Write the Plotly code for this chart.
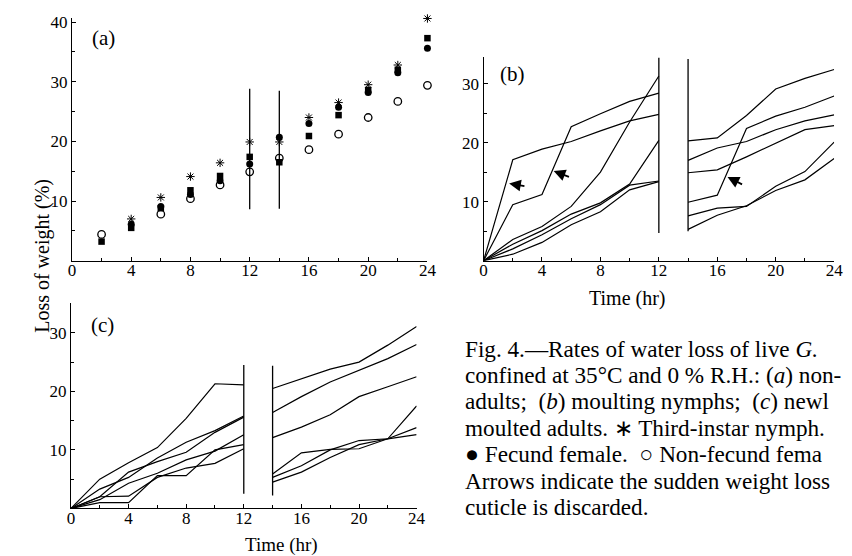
import plotly.graph_objects as go

W, H = 852, 556
FONT = "Liberation Serif"

# ---------------- Panel (a): non-moulting adults ----------------
a_hours = [2, 4, 6, 8, 10, 12, 14, 16, 18, 20, 22, 24]
a_nymph = [None, 7.0, 10.6, 14.1, 16.4, 19.9, 19.9, 24.0, 26.5, 29.5, 32.8, 40.6]
a_fecund = [None, 6.1, 9.1, 11.1, 13.4, 16.2, 20.7, 23.0, 25.7, 28.2, 31.5, 35.6]
a_square = [3.2, 5.5, 8.8, 11.8, 14.2, 17.4, 16.5, 20.9, 24.4, 28.6, 32.0, 37.3]
a_nonfecund = [4.4, None, 7.8, 10.4, 12.7, 14.9, 17.2, 18.6, 21.2, 24.0, 26.7, 29.4]
a_break_x = [12, 14]
a_break_lo = [8.6, 8.7]
a_break_hi = [28.8, 28.5]

# ---------------- Panel (b): moulting nymphs ----------------
b_hours_left = [0, 2, 4, 6, 8, 10, 12]
b_hours_right = [14, 16, 18, 20, 22, 24]
b_left = [
    [0, 17.1, 18.9, 20.2, 22.0, 23.7, 24.8],
    [0, 9.5, 11.2, 22.7, 24.9, 27.0, 28.4],
    [0, 3.6, 5.8, 9.2, 15.0, 23.5, 31.3],
    [0, 2.8, 5.1, 7.9, 9.8, 13.0, 20.4],
    [0, 2.0, 4.4, 7.1, 9.5, 12.8, 13.5],
    [0, 1.1, 3.1, 6.1, 8.3, 12.0, 13.4],
]
b_right = [
    [20.3, 20.8, 24.6, 29.1, 30.9, 32.4],
    [17.0, 19.1, 20.2, 22.2, 23.7, 24.7],
    [14.9, 15.4, 17.6, 19.9, 22.2, 22.9],
    [9.9, 11.1, 22.4, 24.5, 26.0, 27.9],
    [7.6, 8.9, 9.2, 12.6, 15.1, 20.1],
    [5.3, 7.7, 9.3, 11.9, 13.7, 17.3],
]
b_break_x = [12, 14]
b_break_lo = [4.7, 5.0]
b_break_hi = [34.4, 34.2]
# arrows: head (x, y) and tail (x, y) in data units
b_arrow_head_x = [1.75, 4.8, 16.7]
b_arrow_head_y = [13.1, 15.2, 14.2]
b_arrow_tail_x = [2.9, 5.95, 17.8]
b_arrow_tail_y = [12.6, 14.1, 12.8]

# ---------------- Panel (c): newly moulted adults ----------------
c_hours_left = [0, 2, 4, 6, 8, 10, 12]
c_hours_right = [14, 16, 18, 20, 22, 24]
c_left = [
    [0, 5.0, 7.8, 10.4, 15.4, 21.3, 21.1],
    [0, 3.3, 5.3, 8.6, 11.3, 13.3, 15.8],
    [0, 2.0, 6.2, 8.0, 9.6, 13.0, 15.6],
    [0, 1.5, 4.3, 6.0, 8.3, 9.8, 12.6],
    [0, 1.0, 1.0, 5.6, 5.6, 10.0, 10.9],
    [0, 2.0, 2.1, 5.3, 6.9, 7.7, 10.2],
]
c_right = [
    [20.5, 22.2, 23.8, 25.0, 27.9, 31.1],
    [16.4, 19.1, 21.6, 23.6, 25.6, 28.0],
    [12.1, 13.9, 16.0, 19.1, 20.8, 22.5],
    [5.9, 9.5, 10.1, 10.2, 11.9, 12.6],
    [5.3, 7.3, 10.0, 11.6, 11.9, 17.5],
    [4.5, 6.2, 8.7, 10.9, 11.9, 13.8],
]
c_break_x = [12, 14]
c_break_lo = [2.5, 2.2]
c_break_hi = [24.5, 24.4]

x_ticks = [0, 4, 8, 12, 16, 20, 24]
y_ticks = [10, 20, 30, 40]

caption_lines = [
    "Fig. 4.—Rates of water loss of live <i>G.</i>",
    "confined at 35°C and 0 % R.H.: (<i>a</i>) non-",
    "adults;  (<i>b</i>) moulting nymphs;  (<i>c</i>) newl",
    "moulted adults. ∗ Third-instar nymph.",
    "● Fecund female.  ○ Non-fecund fema",
    "Arrows indicate the sudden weight loss",
    "cuticle is discarded.",
]


def px_x(p):
    return p / W


def px_y(p):
    return 1 - p / H


fig = go.Figure()


def break_trace(xs, lo, hi, xa, ya):
    bx, by = [], []
    for x, l, h in zip(xs, lo, hi):
        bx += [x, x, None]
        by += [l, h, None]
    return go.Scatter(x=bx, y=by, mode="lines", xaxis=xa, yaxis=ya,
                      line=dict(color="black", width=1.3), hoverinfo="skip")


# panel (a)
fig.add_trace(break_trace(a_break_x, a_break_lo, a_break_hi, "x", "y"))
fig.add_trace(go.Scatter(x=a_hours, y=a_nymph, mode="markers", xaxis="x", yaxis="y",
                         marker=dict(symbol="asterisk-open", size=7, color="black",
                                     line=dict(color="black", width=1)), cliponaxis=False))
fig.add_trace(go.Scatter(x=a_hours, y=a_square, mode="markers", xaxis="x", yaxis="y",
                         marker=dict(symbol="square", size=6.5, color="black"), cliponaxis=False))
fig.add_trace(go.Scatter(x=a_hours, y=a_fecund, mode="markers", xaxis="x", yaxis="y",
                         marker=dict(symbol="circle", size=7, color="black"), cliponaxis=False))
fig.add_trace(go.Scatter(x=a_hours, y=a_nonfecund, mode="markers", xaxis="x", yaxis="y",
                         marker=dict(symbol="circle-open", size=7.5, color="black",
                                     line=dict(color="black", width=1.3)), cliponaxis=False))


def add_lines(hl, hr, left, right, xa, ya):
    for l, r in zip(left, right):
        fig.add_trace(go.Scatter(x=hl + [None] + hr, y=l + [None] + r, mode="lines",
                                 xaxis=xa, yaxis=ya, connectgaps=False,
                                 line=dict(color="black", width=1.2), cliponaxis=False))


# panel (b)
add_lines(b_hours_left, b_hours_right, b_left, b_right, "x2", "y2")
fig.add_trace(break_trace(b_break_x, b_break_lo, b_break_hi, "x2", "y2"))
# panel (c)
add_lines(c_hours_left, c_hours_right, c_left, c_right, "x3", "y3")
fig.add_trace(break_trace(c_break_x, c_break_lo, c_break_hi, "x3", "y3"))

tickfont = dict(family=FONT, size=17, color="black")


def xax(dom):
    return dict(domain=dom, range=[0, 24], tickvals=x_ticks, ticks="inside", ticklen=4,
                tickwidth=1, tickcolor="black", showline=True, linecolor="black",
                linewidth=1.3, showgrid=False, zeroline=False, tickfont=tickfont,
                ticklabelstandoff=-6,
                minor=dict(dtick=2, ticks="inside", ticklen=3, tickcolor="black", showgrid=False))


def yax(dom, top, anchor):
    return dict(domain=dom, range=[0, top], tickvals=[v for v in y_ticks if v <= top],
                ticks="inside", ticklen=4, tickwidth=1, tickcolor="black", showline=True,
                linecolor="black", linewidth=1.3, showgrid=False, zeroline=False,
                tickfont=tickfont, anchor=anchor,
                minor=dict(dtick=5, ticks="inside", ticklen=3, tickcolor="black", showgrid=False))


layout = dict(
    width=W, height=H, margin=dict(l=0, r=0, t=0, b=0),
    paper_bgcolor="white", plot_bgcolor="white", showlegend=False,
    font=dict(family=FONT, color="black"),
    xaxis=dict(xax([px_x(69), px_x(430)]), anchor="y"),
    yaxis=yax([px_y(258), px_y(13)], 40.7, "x"),
    xaxis2=dict(xax([px_x(487), px_x(843)]), anchor="y2"),
    yaxis2=yax([px_y(258), px_y(52)], 34.6, "x2"),
    xaxis3=dict(xax([px_x(68), px_x(419)]), anchor="y3"),
    yaxis3=yax([px_y(508), px_y(300.7)], 35.1, "x3"),
)
fig.update_layout(**layout)

ann = []
# panel labels
ann.append(dict(x=2.1, y=37.3, xref="x", yref="y", text="(a)", showarrow=False,
                font=dict(family=FONT, size=21)))
ann.append(dict(x=2.0, y=31.7, xref="x2", yref="y2", text="(b)", showarrow=False,
                font=dict(family=FONT, size=21)))
ann.append(dict(x=2.2, y=31.3, xref="x3", yref="y3", text="(c)", showarrow=False,
                font=dict(family=FONT, size=21)))
# arrows
for hx, hy, tx, ty in zip(b_arrow_head_x, b_arrow_head_y, b_arrow_tail_x, b_arrow_tail_y):
    ann.append(dict(x=hx, y=hy, ax=tx, ay=ty, xref="x2", yref="y2", axref="x2", ayref="y2",
                    text="", showarrow=True, arrowhead=2, arrowsize=1.3, arrowwidth=1.8,
                    arrowcolor="black", standoff=0))
# axis titles
ann.append(dict(x=px_x(26), y=px_y(253), xref="paper", yref="paper", text="Loss of weight (%)",
                textangle=-90, showarrow=False, font=dict(family=FONT, size=20)))
ann.append(dict(x=px_x(673), y=px_y(296), xref="paper", yref="paper", text="Time (hr)",
                showarrow=False, font=dict(family=FONT, size=20)))
ann.append(dict(x=px_x(244), y=px_y(557), xref="paper", yref="paper", text="Time (hr)",
                showarrow=False, yanchor="bottom", borderpad=0,
                font=dict(family=FONT, size=19)))
# caption
for i, line in enumerate(caption_lines):
    ann.append(dict(x=px_x(466), y=px_y(346.7 + 26.67 * i), xref="paper", yref="paper",
                    text=line, showarrow=False, xanchor="left", yanchor="middle",
                    font=dict(family=FONT, size=23.2)))
fig.update_layout(annotations=ann)

fig.write_html("out.html")
